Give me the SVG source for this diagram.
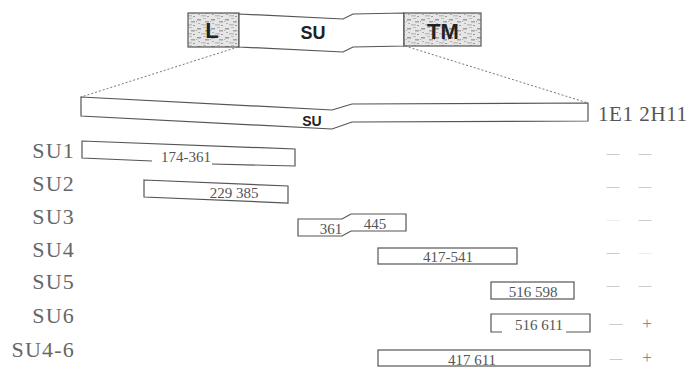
<svg xmlns="http://www.w3.org/2000/svg" width="689" height="369" viewBox="0 0 689 369">
<defs>
<pattern id="noise" width="14" height="9" patternUnits="userSpaceOnUse">
<rect width="14" height="9" fill="#e6e6e6"/>
<rect x="1" y="1" width="4" height="1.5" fill="#9a9a9a"/>
<rect x="7" y="0" width="3" height="1" fill="#bbb"/>
<rect x="9" y="3" width="4" height="1.5" fill="#a5a5a5"/>
<rect x="2" y="5" width="2" height="1" fill="#b0b0b0"/>
<rect x="5" y="6" width="5" height="1.5" fill="#c0c0c0"/>
<rect x="11" y="7" width="2" height="1" fill="#999"/>
<rect x="0" y="3" width="1" height="1" fill="#aaa"/>
</pattern>
<style>
.box{fill:#fff;stroke:#555;stroke-width:1.2}
.ln{fill:none;stroke:#555;stroke-width:1.2}
.dot{fill:none;stroke:#777;stroke-width:1;stroke-dasharray:2 2}
.lab{font-family:"Liberation Serif","Times New Roman",serif;font-size:22px;fill:#666;text-anchor:end;letter-spacing:1.2px}
.num{font-family:"Liberation Serif","Times New Roman",serif;font-size:15px;fill:#555;text-anchor:middle}
.bold{font-family:"Liberation Sans",Arial,sans-serif;font-weight:bold;fill:#222;text-anchor:middle}
.mk{font-family:"Liberation Serif","Times New Roman",serif;font-size:13px;fill:#aaa;text-anchor:middle}
.plus{font-family:"Liberation Serif","Times New Roman",serif;font-size:17px;fill:#888;text-anchor:middle}
.faint{fill:#e2e2e2}
</style>
</defs>

<g id="protein">
<rect x="188" y="13" width="51" height="34" fill="url(#noise)" stroke="#555" stroke-width="1.2"/>
<text class="bold" x="212" y="38" font-size="22">L</text>
<path class="box" d="M239,14 L343,19 L353,14 L404,13 L404,46 L353,47 L343,52 L239,47 Z"/>
<text class="bold" x="313" y="39" font-size="18">SU</text>
<rect x="404" y="13" width="77" height="33" fill="url(#noise)" stroke="#555" stroke-width="1.2"/>
<text class="bold" x="443" y="39" font-size="22">TM</text>
</g>

<g id="connectors">
<line class="dot" x1="238" y1="47" x2="81" y2="97"/>
<line class="dot" x1="405" y1="46" x2="588" y2="103"/>
</g>

<g id="su-full">
<path class="box" d="M81,97 L332,110 L352,104 L588,103 L588,121 L352,122 L332,129 L81,116 Z"/>
<text class="bold" x="312" y="126" font-size="14">SU</text>
</g>

<g id="header">
<text x="598" y="121" font-family="Liberation Serif,'Times New Roman',serif" font-size="21" fill="#555" textLength="89" lengthAdjust="spacing">1E1 2H11</text>
</g>

<g id="su1">
<text class="lab" x="75" y="158">SU1</text>
<path class="ln" d="M152,161 L82,158 L82,141 L295,149 L295,166 L212,164"/>
<text class="num" x="186" y="162">174-361</text>
</g>

<g id="su2">
<text class="lab" x="75" y="191">SU2</text>
<path class="box" d="M144,180 L288,186 L288,203 L144,197 Z"/>
<text class="num" x="234" y="198">229 385</text>
</g>

<g id="su3">
<text class="lab" x="75" y="224">SU3</text>
<path class="box" d="M298,219 L342,219 L351,214 L406,214 L406,231 L351,231 L342,236 L298,236 Z"/>
<text class="num" x="331" y="234">361</text>
<text class="num" x="375" y="229">445</text>
</g>

<g id="su4">
<text class="lab" x="75" y="257">SU4</text>
<rect class="box" x="378" y="248" width="139" height="16"/>
<text class="num" x="448" y="262">417-541</text>
</g>

<g id="su5">
<text class="lab" x="75" y="289">SU5</text>
<rect class="box" x="491" y="282" width="83" height="17"/>
<text class="num" x="533" y="297">516 598</text>
</g>

<g id="su6">
<text class="lab" x="75" y="323">SU6</text>
<path class="ln" d="M502,332 L491,332 L491,314 L590,314 L590,332 L566,332"/>
<text class="num" x="539" y="330">516 611</text>
</g>

<g id="su4-6">
<text class="lab" x="75" y="357">SU4-6</text>
<rect class="box" x="378" y="350" width="212" height="16"/>
<text class="num" x="472" y="365">417 611</text>
</g>

<g id="results">
<text class="mk" x="613" y="157">—</text><text class="mk" x="645" y="157">—</text>
<text class="mk" x="613" y="190">—</text><text class="mk" x="645" y="190">—</text>
<text class="mk faint" x="613" y="223">—</text><text class="mk" x="645" y="223">—</text>
<text class="mk" x="613" y="256">—</text><text class="mk faint" x="645" y="256">—</text>
<text class="mk" x="613" y="289">—</text><text class="mk" x="645" y="289">—</text>
<text class="mk" x="616" y="327">—</text><text class="plus" x="647" y="329">+</text>
<text class="mk" x="616" y="362">—</text><text class="plus" x="647" y="363">+</text>
</g>
</svg>
